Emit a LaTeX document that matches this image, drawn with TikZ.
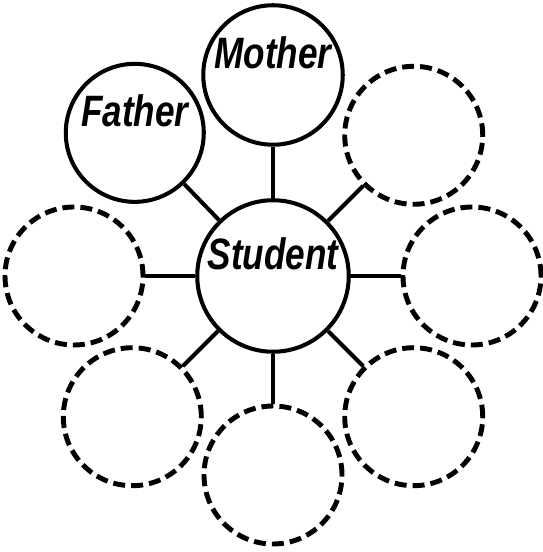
\documentclass[tikz,border=0pt]{standalone}
\usepackage{fontspec}
\newfontfamily\hand[FakeStretch=0.8]{Liberation Sans}
\usetikzlibrary{calc}
\tikzset{
  kreis/.style={circle,draw,line width=2.3pt,minimum size=2.76cm,inner sep=0pt,
    font=\hand\bfseries\itshape\fontsize{25}{25}\selectfont,
    text height=0.63cm,text depth=0.9cm},
  leer/.style={kreis,line width=2.8pt,dash pattern=on 0.24cm off 0.12cm},
  verb/.style={line width=2.3pt},
}

\begin{document}
\begin{tikzpicture}
  \useasboundingbox (0,0) rectangle (10.84,11.04);
  \node[kreis] (stud) at (5.46,5.52) {Student};
  \node[kreis] (mutter) at ($(stud)+(90:4.02)$) {Mother};
  \node[kreis] (vater) at ($(stud)+(134:3.98)$) {Father};
  \foreach \w/\n in {45/ro,0/r,315/ru,270/u,225/lu,180/l}
    \node[leer] (\n) at ($(stud)+(\w:3.98)$) {};
  \foreach \n in {mutter,vater,ro,r,ru,u,lu,l}
    \draw[verb] (stud) -- (\n);
\end{tikzpicture}
\end{document}
